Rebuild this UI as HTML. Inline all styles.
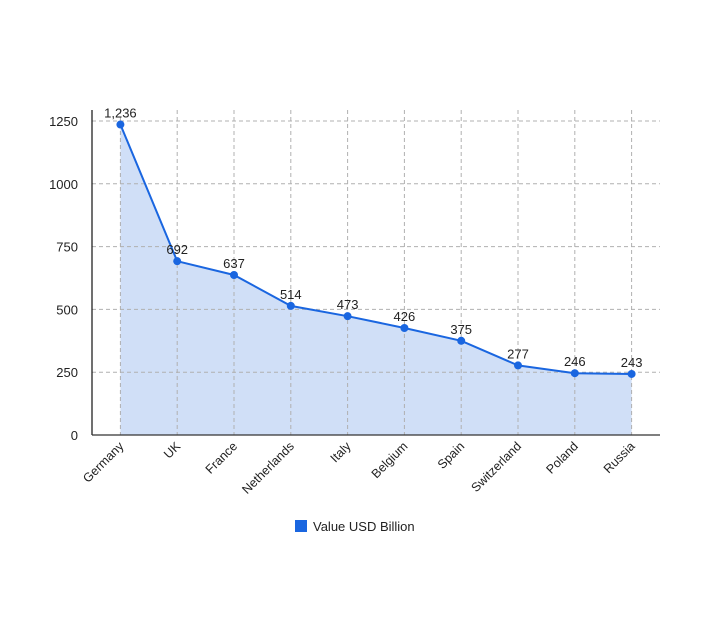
<!DOCTYPE html>
<html><head><meta charset="utf-8"><style>
body{margin:0;background:#fff;}
svg{display:block;font-family:"Liberation Sans",sans-serif;}
</style></head><body>
<svg id="chart" width="707" height="623"></svg>
<script>
const categories=["Germany","UK","France","Netherlands","Italy","Belgium","Spain","Switzerland","Poland","Russia"];
const values=[1236,692,637,514,473,426,375,277,246,243];
const valueLabels=["1,236","692","637","514","473","426","375","277","246","243"];
const yTicks=[0,250,500,750,1000,1250];
const NS="http://www.w3.org/2000/svg";
const svg=document.getElementById("chart");
const L=92,R=660,T=121,B=435,yMax=1250;
const band=(R-L)/categories.length;
const x=i=>L+band*(i+0.5);
const y=v=>B-(v/yMax)*(B-T);
function mk(tag,attrs,parent){const e=document.createElementNS(NS,tag);for(const k in attrs)e.setAttribute(k,attrs[k]);(parent||svg).appendChild(e);return e;}
const grid=mk("g",{});


yTicks.forEach(t=>{
  if(t>0){const l=mk("line",{x1:L,x2:R,y1:y(t),y2:y(t),stroke:"#b0b0b0","stroke-dasharray":"4,3"},grid);
  
  }
  const tx=mk("text",{x:L-14,y:y(t)+5,"text-anchor":"end","font-size":"13",fill:"#222"});
  tx.textContent=t;
  
  
});
categories.forEach((c,i)=>{
  const l=mk("line",{x1:x(i),x2:x(i),y1:110,y2:B,stroke:"#b0b0b0","stroke-dasharray":"4,3"},grid);
  
  
  const tx=mk("text",{x:x(i)+4,y:B+12,"text-anchor":"end","font-size":"12.5",fill:"#222",transform:`rotate(-45 ${x(i)+4} ${B+12})`});
  tx.textContent=c;
  
  
});
let pts=values.map((v,i)=>x(i)+","+y(v)).join(" ");
const area=mk("polygon",{points:x(0)+","+B+" "+pts+" "+x(values.length-1)+","+B,fill:"#d0dff7"});


svg.insertBefore(area,grid);
const ax=mk("line",{x1:L,x2:L,y1:110,y2:B,stroke:"#111","stroke-width":1.2});


const bx=mk("line",{x1:L,x2:R,y1:B,y2:B,stroke:"#333","stroke-width":1.2});


const line=mk("polyline",{points:pts,fill:"none",stroke:"#1a66e0","stroke-width":2});


values.forEach((v,i)=>{
  const c=mk("circle",{cx:x(i),cy:y(v),r:4,fill:"#1a66e0"});
  
  
  const t=mk("text",{x:x(i),y:y(v)-7,"text-anchor":"middle","font-size":"13",fill:"#222"});
  t.textContent=valueLabels[i];
  
  
});
const lg=mk("g",{});


mk("rect",{x:295,y:520,width:12,height:12,fill:"#1a66e0"},lg);
const lt=mk("text",{x:313,y:531,"font-size":"13",fill:"#222"},lg);
lt.textContent="Value USD Billion";
</script>
</body></html>
